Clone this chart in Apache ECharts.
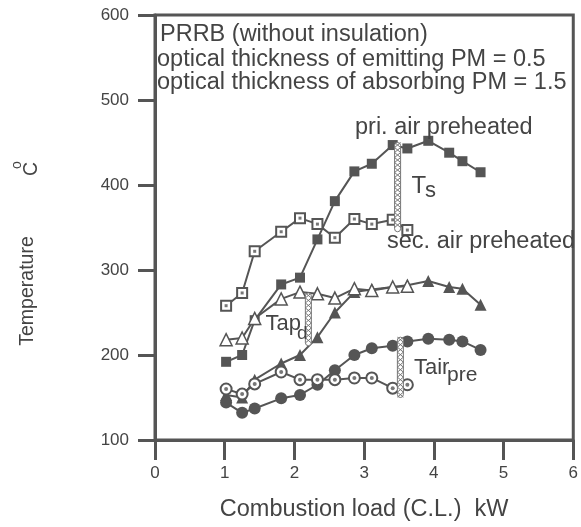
<!DOCTYPE html>
<html>
<head>
<meta charset="utf-8">
<script src="https://cdn.jsdelivr.net/npm/echarts@6/dist/echarts.min.js"></script>
<style>html,body{margin:0;padding:0;background:#fff;}#c{width:581px;height:527px;}</style>
</head>
<body>
<div id="c"></div>
<script>
// ---- data ----
const xPri = [1.02, 1.25, 1.43, 1.81, 2.08, 2.33, 2.58, 2.86, 3.11, 3.41, 3.62, 3.92, 4.22, 4.41, 4.67];
const xSec = [1.02, 1.25, 1.43, 1.81, 2.08, 2.33, 2.58, 2.86, 3.11, 3.41, 3.62];
const priTs   = [192, 200, 241, 283, 291, 336, 381, 416, 425, 447, 443, 452, 438, 428, 415];
const secTs   = [258, 273, 322, 345, 361, 354, 338, 360, 354, 359, 347];
const priTap  = [153, 150, 171, 190, 200, 221, 250, 274, 277, 280, 282, 287, 280, 278, 259];
const secTap  = [218, 220, 243, 266, 274, 272, 267, 278, 276, 280, 281];
const priTair = [144, 132, 137, 149, 153, 165, 182, 200, 208, 211, 216, 219, 218, 216, 206];
const secTair = [160, 154, 166, 180, 171, 171, 171, 173, 173, 161, 165];
// hatched difference bars: x, low, high
const barX    = [3.48, 2.20, 3.52];
const barLow  = [345, 211, 150];
const barHigh = [450, 273, 221];
const xTicks = [0, 1, 2, 3, 4, 5, 6];
const yTicks = [100, 200, 300, 400, 500, 600];

const FONT = 'Liberation Sans, Arial, Helvetica, sans-serif';
const DARK = '#555';
const TXT = '#444';

function pairs(xs, ys) { return ys.map((y, i) => [xs[i], y]); }

function lineSeries(xs, ys, symbol, size, filled, bw) {
  return {
    type: 'line', data: pairs(xs, ys), symbol: symbol, symbolSize: size,
    showAllSymbol: true, z: 3,
    lineStyle: { color: DARK, width: 2 },
    itemStyle: filled ? { color: DARK } : { color: '#fff', borderColor: DARK, borderWidth: bw || 2 },
    emphasis: { disabled: true }
  };
}
function dotSeries(xs, ys, symbol, size) {
  return {
    type: 'scatter', data: pairs(xs, ys), symbol: symbol, symbolSize: size, z: 4,
    itemStyle: { color: DARK }, emphasis: { disabled: true }
  };
}

const chart = echarts.init(document.getElementById('c'), null, { renderer: 'canvas' });

function txt(s, x, y, size) {
  return { type: 'text', x: x, y: y, z: 10, style: { text: s, fontSize: size, fontFamily: FONT, fill: TXT, verticalAlign: 'middle', align: 'left' } };
}

const option = {
  animation: false,
  backgroundColor: '#fff',
  grid: { left: 155, top: 15, right: 2, bottom: 85, show: true, borderColor: DARK, borderWidth: 3, containLabel: false },
  xAxis: {
    type: 'value', min: xTicks[0], max: xTicks[xTicks.length - 1], interval: 1,
    axisLine: { show: true, onZero: false, lineStyle: { color: DARK, width: 3 } },
    axisTick: { show: true, inside: false, length: 20, lineStyle: { color: DARK, width: 3 } },
    axisLabel: { show: true, margin: 25, fontSize: 17, color: TXT, fontFamily: FONT },
    splitLine: { show: false },
    name: 'Combustion load (C.L.)  kW', nameLocation: 'middle', nameGap: 58,
    nameTextStyle: { fontSize: 23.5, color: TXT, fontFamily: FONT }
  },
  yAxis: {
    type: 'value', min: yTicks[0], max: yTicks[yTicks.length - 1], interval: 100,
    axisLine: { show: true, onZero: false, lineStyle: { color: DARK, width: 3 } },
    axisTick: { show: true, inside: false, length: 17, lineStyle: { color: DARK, width: 3 } },
    axisLabel: { show: true, margin: 26, fontSize: 17, color: TXT, fontFamily: FONT },
    splitLine: { show: false }
  },
  series: [
    lineSeries(xPri, priTs, 'rect', 10, true),
    lineSeries(xSec, secTs, 'rect', 10, false, 2),
    dotSeries(xSec, secTs, 'rect', 3),
    lineSeries(xPri, priTap, 'triangle', 12, true),
    lineSeries(xSec, secTap, 'triangle', 12, false, 1.5),
    lineSeries(xPri, priTair, 'circle', 12, true),
    lineSeries(xSec, secTair, 'circle', 11, false, 2),
    dotSeries(xSec, secTair, 'circle', 4),
    {
      type: 'custom', z: 5,
      data: barX.map((x, i) => [x, barLow[i], barHigh[i]]),
      renderItem: function (params, api) {
        const x = api.value(0), lo = api.value(1), hi = api.value(2);
        const top = api.coord([x, hi]), bot = api.coord([x, lo]);
        const w = 6, cx = top[0];
        const p1 = [], p2 = [];
        let k = 0;
        for (let y = top[1]; y <= bot[1]; y += 5, k++) {
          p1.push([cx + (k % 2 ? w / 2 : -w / 2), y]);
          p2.push([cx + (k % 2 ? -w / 2 : w / 2), y]);
        }
        return {
          type: 'group', children: [
            { type: 'rect', shape: { x: cx - w / 2, y: top[1], width: w, height: bot[1] - top[1], r: 3 },
              style: { fill: '#fff', stroke: '#777', lineWidth: 1 } },
            { type: 'polyline', shape: { points: p1 }, style: { fill: null, stroke: '#777', lineWidth: 1 } },
            { type: 'polyline', shape: { points: p2 }, style: { fill: null, stroke: '#777', lineWidth: 1 } }
          ]
        };
      }
    }
  ],
  graphic: [
    txt('PRRB (without insulation)', 160, 35, 23.5),
    txt('optical thickness of emitting PM = 0.5', 157, 60, 23.5),
    txt('optical thickness of absorbing PM = 1.5', 157, 83, 23.5),
    txt('pri. air preheated', 355, 128, 23.5),
    txt('sec. air preheated', 387, 242, 23.5),
    txt('T', 411.5, 186, 24), txt('s', 425, 191, 22),
    txt('Tap', 265.5, 324, 22), txt('d', 297, 334, 19),
    txt('Tair', 414, 368, 22), txt('pre', 447, 375.5, 21),
    {
      type: 'group', x: 28, y: 291, rotation: Math.PI / 2, z: 10,
      children: [
        { type: 'text', x: 0, y: 0, style: { text: 'Temperature', fontSize: 19.5, fontFamily: FONT, fill: TXT, align: 'center', verticalAlign: 'middle' } },
        { type: 'text', x: 126, y: -11, style: { text: 'o', fontSize: 14, fontFamily: FONT, fill: TXT, align: 'center', verticalAlign: 'middle' } },
        { type: 'text', x: 122, y: 4, style: { text: 'C', fontSize: 19.5, fontFamily: FONT, fill: TXT, align: 'center', verticalAlign: 'middle' } }
      ]
    }
  ]
};
chart.setOption(option);
</script>
</body>
</html>
